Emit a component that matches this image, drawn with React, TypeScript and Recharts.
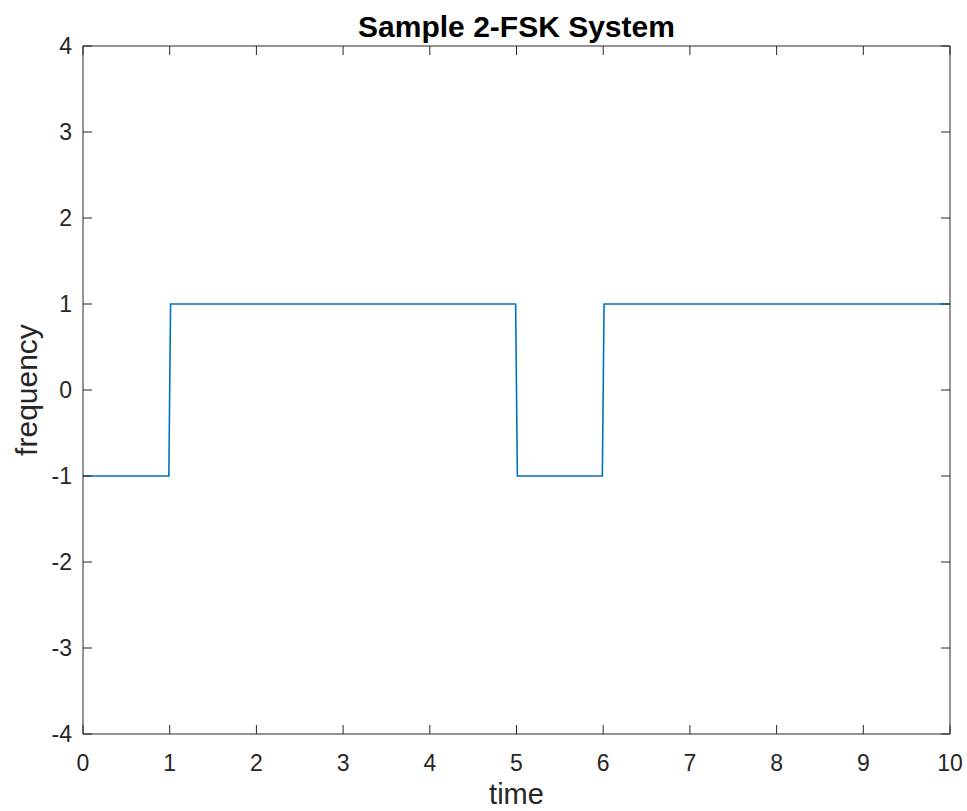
import React from 'react';
import { LineChart, Line, XAxis, YAxis, Label } from 'recharts';

// step signal (edges are a hair slanted)
const times = [0, 0.99, 1.01, 4.99, 5.01, 5.99, 6.01, 10];
const freqs = [-1, -1, 1, 1, -1, -1, 1, 1];

const xTicks = [0, 1, 2, 3, 4, 5, 6, 7, 8, 9, 10];
const yTicks = [-4, -3, -2, -1, 0, 1, 2, 3, 4];

const data = times.map((t, i) => ({ time: t, freq: freqs[i] }));

const AXIS = '#262626';
const FONT = '"Liberation Sans", Arial, Helvetica, sans-serif';
const TICK_LEN = 9;

const BottomTick = (props: any) => {
  const { x, y, payload } = props;
  return (
    <g>
      <line x1={x} y1={y} x2={x} y2={y - TICK_LEN} stroke={AXIS} />
      <text x={x} y={y + 37} textAnchor="middle" fill={AXIS} fontSize={23} fontFamily={FONT}>
        {payload.value}
      </text>
    </g>
  );
};

const TopTick = (props: any) => {
  const { x, y } = props;
  return <line x1={x} y1={y} x2={x} y2={y + TICK_LEN} stroke={AXIS} />;
};

const LeftTick = (props: any) => {
  const { x, y, payload } = props;
  return (
    <g>
      <line x1={x} y1={y} x2={x + TICK_LEN} y2={y} stroke={AXIS} />
      <text x={x - 11} y={y} dy="0.36em" textAnchor="end" fill={AXIS} fontSize={23} fontFamily={FONT}>
        {payload.value}
      </text>
    </g>
  );
};

const RightTick = (props: any) => {
  const { x, y } = props;
  return <line x1={x} y1={y} x2={x - TICK_LEN} y2={y} stroke={AXIS} />;
};

const App: React.FC = () => {
  return (
    <div style={{ position: 'relative', width: 967, height: 811, background: '#fff' }}>
      <style>{'body{margin:0}'}</style>

      {/* TITLE */}
      <svg width={967} height={46} style={{ position: 'absolute', left: 0, top: 0 }}>
        <text
          x={516.5}
          y={37}
          textAnchor="middle"
          fill="#000"
          fontSize={30}
          fontWeight="bold"
          fontFamily={FONT}
        >
          Sample 2-FSK System
        </text>
      </svg>

      <LineChart width={967} height={811} data={data} margin={{ top: 45, right: 16, bottom: 0, left: 0 }}>
        <XAxis
          dataKey="time"
          type="number"
          domain={[0, 10]}
          ticks={xTicks}
          interval={0}
          tickSize={0}
          tickMargin={0}
          tickLine={false}
          tick={<BottomTick />}
          height={77}
          stroke={AXIS}
          allowDataOverflow
        >
          <Label
            content={({ viewBox }: any) => (
              <text
                x={viewBox.x + viewBox.width / 2}
                y={804}
                textAnchor="middle"
                fill={AXIS}
                fontSize={29}
                fontFamily={FONT}
              >
                time
              </text>
            )}
          />
        </XAxis>
        <XAxis
          xAxisId="top"
          dataKey="time"
          orientation="top"
          type="number"
          domain={[0, 10]}
          ticks={xTicks}
          interval={0}
          tickSize={0}
          tickMargin={0}
          tickLine={false}
          tick={<TopTick />}
          height={1}
          stroke={AXIS}
          allowDataOverflow
        />
        <YAxis
          type="number"
          domain={[-4, 4]}
          ticks={yTicks}
          interval={0}
          tickSize={0}
          tickMargin={0}
          tickLine={false}
          tick={<LeftTick />}
          width={83}
          stroke={AXIS}
          allowDataOverflow
        >
          <Label
            content={({ viewBox }: any) => {
              const cy = viewBox.y + viewBox.height / 2;
              return (
                <text
                  x={0}
                  y={0}
                  transform={`translate(37, ${cy}) rotate(-90)`}
                  textAnchor="middle"
                  fill={AXIS}
                  fontSize={30}
                  fontFamily={FONT}
                >
                  frequency
                </text>
              );
            }}
          />
        </YAxis>
        <YAxis
          yAxisId="right"
          orientation="right"
          type="number"
          domain={[-4, 4]}
          ticks={yTicks}
          interval={0}
          tickSize={0}
          tickMargin={0}
          tickLine={false}
          tick={<RightTick />}
          width={1}
          stroke={AXIS}
          allowDataOverflow
        />
        {/* invisible copy so the top/right box axes get drawn */}
        <Line
          xAxisId="top"
          yAxisId="right"
          type="linear"
          dataKey="freq"
          stroke="none"
          dot={false}
          activeDot={false}
          legendType="none"
          isAnimationActive={false}
        />
        <Line
          type="linear"
          dataKey="freq"
          stroke="#0072BD"
          strokeWidth={1.6}
          dot={false}
          isAnimationActive={false}
        />
      </LineChart>
    </div>
  );
};

export default App;
